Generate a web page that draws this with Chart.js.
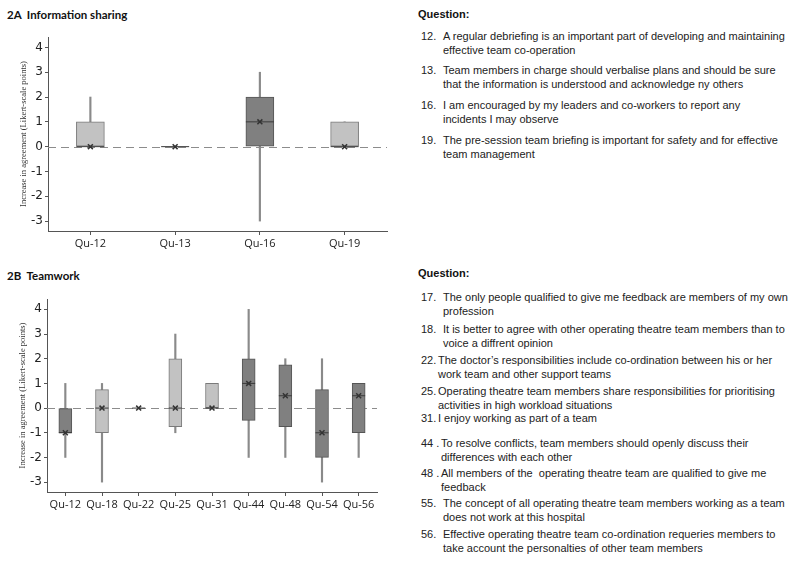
<!DOCTYPE html>
<html>
<head>
<meta charset="utf-8">
<script src="https://cdn.jsdelivr.net/npm/chart.js@4.4.0/dist/chart.umd.min.js"></script>
<style>
  body { margin: 0; background: #fff; width: 809px; height: 585px; position: relative; overflow: hidden; font-family: "Liberation Sans", Arial, sans-serif; }
  canvas { position: absolute; left: 0; }
  #chartA { top: 30px; }
  #chartB { top: 290px; }
  .ptitle { position: absolute; left: 7px; font: bold 11.5px Lato, sans-serif; color: #111; }
  .qhead { position: absolute; left: 418px; font: bold 11px "Liberation Sans", Arial, sans-serif; color: #111; }
  .q { position: absolute; left: 421px; font: 11px "Liberation Sans", Arial, sans-serif; line-height: 14px; white-space: nowrap; color: #222; }
  .q .n { display: inline-block; width: 22px; vertical-align: top; }
  .q .t { display: inline-block; vertical-align: top; }
</style>
</head>
<body>
<div class="ptitle" style="top:8px">2A&nbsp; Information sharing</div>
<canvas id="chartA" width="400" height="228"></canvas>

<div class="ptitle" style="top:269px">2B&nbsp; Teamwork</div>
<canvas id="chartB" width="400" height="229"></canvas>

<div class="qhead" style="top:8px">Question:</div>
<div class="q" style="top:29px"><span class="n">12.</span><span class="t">A regular debriefing is an important part of developing and maintaining<br>effective team co-operation</span></div>
<div class="q" style="top:63px"><span class="n">13.</span><span class="t">Team members in charge should verbalise plans and should be sure<br>that the information is understood and acknowledge ny others</span></div>
<div class="q" style="top:98px"><span class="n">16.</span><span class="t">I am encouraged by my leaders and co-workers to report any<br>incidents I may observe</span></div>
<div class="q" style="top:133px"><span class="n">19.</span><span class="t">The pre-session team briefing is important for safety and for effective<br>team management</span></div>

<div class="qhead" style="top:267px">Question:</div>
<div class="q" style="top:290px"><span class="n">17.</span><span class="t">The only people qualified to give me feedback are members of my own<br>profession</span></div>
<div class="q" style="top:322px"><span class="n">18.</span><span class="t">It is better to agree with other operating theatre team members than to<br>voice a diffrent opinion</span></div>
<div class="q" style="top:353px"><span class="n" style="width:17px">22.</span><span class="t">The doctor’s responsibilities include co-ordination between his or her<br>work team and other support teams</span></div>
<div class="q" style="top:384px"><span class="n" style="width:17px">25.</span><span class="t">Operating theatre team members share responsibilities for prioritising<br>activities in high workload situations</span></div>
<div class="q" style="top:411px"><span class="n" style="width:17px">31.</span><span class="t">I enjoy working as part of a team</span></div>
<div class="q" style="top:436px"><span class="n" style="width:20px">44 .</span><span class="t">To resolve conflicts, team members should openly discuss their<br>differences with each other</span></div>
<div class="q" style="top:466px"><span class="n" style="width:20px">48 .</span><span class="t">All members of the&nbsp; operating theatre team are qualified to give me<br>feedback</span></div>
<div class="q" style="top:496px"><span class="n">55.</span><span class="t">The concept of all operating theatre team members working as a team<br>does not work at this hospital</span></div>
<div class="q" style="top:527px"><span class="n">56.</span><span class="t">Effective operating theatre team co-ordination requeries members to<br>take account the personalties of other team members</span></div>

<script>
// 2A Information sharing
const catsA = ['Qu-12', 'Qu-13', 'Qu-16', 'Qu-19'];
const lowA = [0, 0, -3, 0];
const q1A = [0, 0, 0, 0];
const medA = [0, 0, 1, 0];
const q3A = [1, 0, 2, 1];
const highA = [2, 0, 3, 1];
const shadeA = ['light', 'none', 'dark', 'light'];

// 2B Teamwork
const catsB = ['Qu-12', 'Qu-18', 'Qu-22', 'Qu-25', 'Qu-31', 'Qu-44', 'Qu-48', 'Qu-54', 'Qu-56'];
const lowB = [-2, -3, 0, -1, 0, -2, -2, -3, -2];
const q1B = [-1, -1, 0, -0.75, 0, -0.5, -0.75, -2, -1];
const medB = [-1, 0, 0, 0, 0, 1, 0.5, -1, 0.5];
const q3B = [0, 0.75, 0, 2, 1, 2, 1.75, 0.75, 1];
const highB = [1, 1, 0, 3, 1, 4, 2, 2, 1];
const shadeB = ['dark', 'light', 'none', 'light', 'light', 'dark', 'dark', 'dark', 'dark'];

const yTicks = [-3, -2, -1, 0, 1, 2, 3, 4];
const yTitle = 'Increase in agreement (Likert-scale points)';

const fill = { light: '#c2c2c2', dark: '#808080', none: 'rgba(0,0,0,0)' };
const edge = { light: '#7a7a7a', dark: '#555555', none: 'rgba(0,0,0,0)' };

// dashed line at zero, behind the boxes
const zeroLine = {
  id: 'zeroLine',
  beforeDatasetsDraw(chart) {
    const { ctx, chartArea: a, scales: { y } } = chart;
    const py = Math.round(y.getPixelForValue(0)) + 0.5;
    ctx.save();
    ctx.setLineDash([8, 5]);
    ctx.strokeStyle = '#8c8c8c';
    ctx.lineWidth = 1.2;
    ctx.beginPath();
    ctx.moveTo(a.left, py);
    ctx.lineTo(a.right, py);
    ctx.stroke();
    ctx.restore();
  }
};

// rotated y title, placed a fixed distance left of the axis
const sideTitle = {
  id: 'sideTitle',
  afterDraw(chart) {
    const { ctx, chartArea: a } = chart;
    ctx.save();
    ctx.translate(a.left - 24, (a.top + a.bottom) / 2);
    ctx.rotate(-Math.PI / 2);
    ctx.font = '8.5px "Liberation Serif"';
    ctx.fillStyle = '#333';
    ctx.textAlign = 'center';
    ctx.textBaseline = 'middle';
    ctx.fillText(yTitle, 0, 0);
    ctx.restore();
  }
};

function boxChart(id, cats, low, q1, med, q3, high, shade, boxW, pad, yWidth) {
  const boxes = cats.map((c, i) => q3[i] > q1[i] ? [q1[i], q3[i]] : null);
  const whiskers = cats.map((c, i) => high[i] > low[i] ? [low[i], high[i]] : null);
  return new Chart(document.getElementById(id), {
    type: 'bar',
    data: {
      labels: cats,
      datasets: [
        {
          type: 'line', data: med, showLine: false, order: 0, clip: false,
          pointStyle: 'crossRot', pointRadius: 3.5, pointBorderWidth: 1.5,
          pointBorderColor: '#333', pointBackgroundColor: '#333'
        },
        {
          type: 'line', data: med, showLine: false, order: 1, clip: false,
          pointStyle: 'line', pointRadius: boxW / 2, pointBorderWidth: 1,
          pointBorderColor: '#3a3a3a'
        },
        {
          data: boxes, grouped: false, order: 2, barThickness: boxW,
          backgroundColor: shade.map(s => fill[s]),
          borderColor: shade.map(s => edge[s]),
          borderWidth: 1, borderSkipped: false
        },
        {
          data: whiskers, grouped: false, order: 3, barThickness: 1.5,
          backgroundColor: '#8a8a8a', borderWidth: 0
        }
      ]
    },
    options: {
      responsive: false,
      animation: false,
      layout: { padding: pad, autoPadding: false },
      plugins: { legend: { display: false }, tooltip: { enabled: false } },
      scales: {
        x: {
          grid: { offset: false, drawOnChartArea: false, tickLength: 4, color: '#555' },
          border: { color: '#555' },
          ticks: { color: '#222', padding: 2, autoSkip: false, maxRotation: 0, minRotation: 0,
                   font: { family: 'Open Sans', size: 11 } },
          afterFit: s => { s.height = 27; s.paddingLeft = 0; s.paddingRight = 0; }
        },
        y: {
          min: -3.4, max: 4.42,
          afterBuildTicks: s => { s.ticks = yTicks.map(v => ({ value: v })); },
          grid: { drawOnChartArea: false, tickLength: 3, color: '#555' },
          border: { color: '#555' },
          ticks: { color: '#222', padding: 2, font: { family: 'DejaVu Sans', size: 12 } },
          afterFit: s => { s.width = yWidth; s.paddingTop = 0; s.paddingBottom = 0; }
        }
      }
    },
    plugins: [zeroLine, sideTitle]
  });
}

boxChart('chartA', catsA, lowA, q1A, medA, q3A, highA, shadeA, 28, { top: 7, right: 13, left: 0, bottom: 0 }, 48);
boxChart('chartB', catsB, lowB, q1B, medB, q3B, highB, shadeB, 13, { top: 9, right: 23, left: 0, bottom: 0 }, 47);
</script>
</body>
</html>
